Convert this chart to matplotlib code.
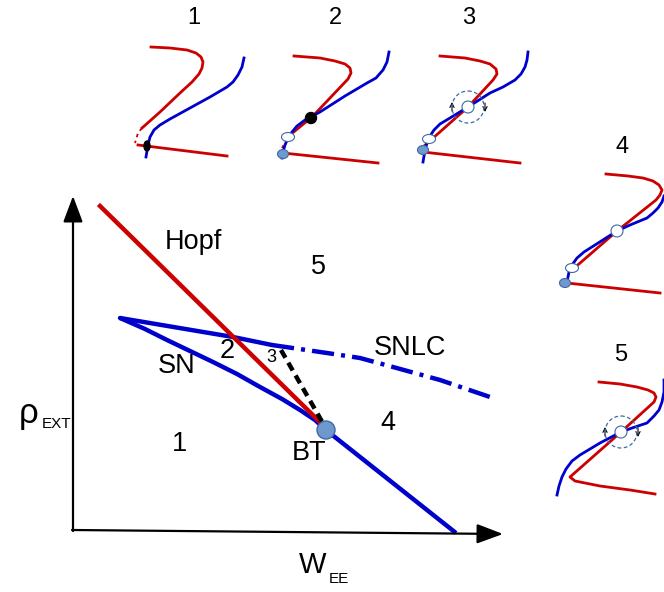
import numpy as np
import matplotlib.pyplot as plt
from matplotlib.patches import Ellipse, Circle

plt.rcParams['font.family'] = ['Liberation Sans', 'DejaVu Sans']

RED = '#cc0000'
BLUE = '#0000cc'
PT_FILL = '#6f98cc'
PT_EDGE = '#3d69a6'

# ---- main bifurcation diagram (picture coordinates, y down) ----
hopf_x = [100, 322]
hopf_y = [206, 424]
sn_upper_x = [120, 233, 272]
sn_upper_y = [318, 337, 345]
sn_lower_x = [120, 145, 167, 190, 213, 237, 260, 282, 300, 315, 326, 456]
sn_lower_y = [318, 329, 340, 351, 362, 374, 387, 399, 410, 420, 430, 533]
snlc_x = [272, 327, 360, 393, 440, 490]
snlc_y = [345, 353, 358, 367, 380, 397]
homo_x = [281, 324]
homo_y = [350, 425]
bt_point = (326, 430)

region_labels = ['Hopf', '5', 'SNLC', '2', 'SN', '1', 'BT', '4']
region_x = [193, 318, 410, 227, 177, 179, 309, 388]
region_y = [242, 267, 348, 351, 366, 444, 453, 423]

# ---- small phase-plane sketches ----
p1_red_top = ([151, 170, 187, 196, 201, 203, 202, 199, 192, 180, 160, 142],
              [47, 48, 50, 53, 57, 62, 68, 74, 82, 93, 112, 128])
p1_red_dash = ([142, 138, 135], [128, 133, 143])
p1_red_low = ([138, 227], [145, 156])
p1_blue = ([244, 242, 238, 233, 227, 210, 190, 170, 160, 154, 150, 148, 146],
           [58, 67, 75, 82, 87, 97, 108, 119, 125, 130, 137, 145, 157])

p2_red_top = ([294, 320, 335, 345, 350, 351, 348, 312, 290],
              [56, 58, 61, 64, 68, 73, 79, 117, 135])
p2_red_dash = ([287, 282], [139, 148])
p2_red_low = ([283, 378], [153, 163])
p2_blue = ([389, 387, 383, 376, 367, 345, 320, 305, 297, 292, 288, 285, 283, 282],
           [52, 62, 70, 78, 83, 96, 112, 120, 126, 132, 138, 145, 152, 158])

p3_red_top = ([440, 465, 480, 490, 496, 497, 493, 468, 423],
              [56, 58, 61, 64, 69, 74, 80, 107, 147])
p3_red_low = ([423, 520], [152, 163])
p3_blue = ([528, 527, 525, 521, 515, 503, 490, 468, 450, 440, 434, 430, 427, 425, 423],
           [52, 60, 67, 74, 80, 87, 93, 107, 118, 124, 130, 136, 143, 150, 162])

p4_red_top = ([606, 628, 643, 653, 659, 662, 660, 656, 617, 572],
              [174, 176, 178, 181, 185, 190, 195, 200, 231, 270])
p4_red_low = ([567, 660], [283, 293])
p4_blue = ([664, 662, 658, 653, 647, 630, 617, 595, 584, 577, 572, 569, 567],
           [196, 202, 208, 213, 218, 225, 231, 245, 252, 258, 265, 272, 282])

p5_red = ([599, 620, 637, 648, 654, 656, 654, 621, 570, 575, 600, 630, 655],
          [382, 384, 387, 390, 393, 397, 402, 432, 477, 481, 486, 490, 494])
p5_blue = ([664, 664, 662, 659, 654, 647, 632, 621, 600, 580, 572, 566, 562, 559, 557],
           [380, 392, 402, 410, 416, 423, 428, 432, 443, 455, 461, 469, 477, 486, 495])

panel_titles = ['1', '2', '3', '4', '5']
title_x = [194, 335, 469, 622, 621]
title_y = [18, 18, 18, 147, 355]

# markers: (x, y) of the fixed points in the sketches
black_pts = [(311, 118)]
white_pts = [(288, 137), (429, 139), (572, 268)]
white_round = [(468, 107), (617, 231), (621, 432)]
filled_pts = [(283, 154), (423, 150), (565, 283)]
limit_cycles = [(468, 107), (621, 432)]

fig = plt.figure(figsize=(6.64, 5.92), dpi=100)
ax = fig.add_axes([0, 0, 1, 1])
ax.set_xlim(0, 664)
ax.set_ylim(592, 0)
ax.axis('off')

# axes arrows
arrow = dict(arrowstyle='-|>,head_length=0.8,head_width=0.3', lw=1.6,
             color='black', mutation_scale=20, shrinkA=0, shrinkB=0)
ax.annotate('', xy=(73, 196), xytext=(73, 531), arrowprops=arrow)
ax.annotate('', xy=(503, 534), xytext=(72, 530), arrowprops=arrow)

ax.text(29, 413, 'ρ', fontsize=25, ha='center', va='center')
ax.text(42, 424, 'EXT', fontsize=11, ha='left', va='center')
ax.text(313, 565, 'W', fontsize=21, ha='center', va='center')
ax.text(329, 579, 'EE', fontsize=11, ha='left', va='center')

# bifurcation curves
ax.plot(sn_upper_x, sn_upper_y, color=BLUE, lw=3.2, solid_capstyle='round')
ax.plot(sn_lower_x, sn_lower_y, color=BLUE, lw=3.2, solid_capstyle='butt',
        solid_joinstyle='round')
ax.plot(snlc_x, snlc_y, color=BLUE, lw=3.2, linestyle=(0, (5, 1.6, 0.9, 1.6)))
ax.plot(hopf_x, hopf_y, color=RED, lw=3.2)
ax.plot(homo_x, homo_y, color='black', lw=3.2, linestyle=(0, (2, 1.3)))
ax.add_patch(Circle(bt_point, 9, facecolor=PT_FILL, edgecolor=PT_EDGE, lw=1, zorder=5))

for lab, x, y in zip(region_labels, region_x, region_y):
    ax.text(x, y, lab, fontsize=19.5, ha='center', va='center')
ax.text(271, 358, '3', fontsize=13, ha='center', va='center')

# sketches
for xs, ys in [p1_red_top, p1_red_low, p2_red_top, p2_red_low, p3_red_top,
               p3_red_low, p4_red_top, p4_red_low, p5_red]:
    ax.plot(xs, ys, color=RED, lw=2, solid_joinstyle='round')
for xs, ys in [p1_red_dash, p2_red_dash]:
    ax.plot(xs, ys, color=RED, lw=1.3, linestyle=(0, (2, 2)))
for xs, ys in [p1_blue, p2_blue, p3_blue, p4_blue, p5_blue]:
    ax.plot(xs, ys, color=BLUE, lw=2, solid_joinstyle='round')

for t, x, y in zip(panel_titles, title_x, title_y):
    ax.text(x, y, t, fontsize=17, ha='center', va='center')

ax.add_patch(Ellipse((147, 146), 6, 10, facecolor='black', edgecolor='black', zorder=5))
for x, y in black_pts:
    ax.add_patch(Circle((x, y), 5.5, facecolor='black', edgecolor='black', zorder=5))
for x, y in white_pts:
    ax.add_patch(Ellipse((x, y), 13, 9, facecolor='white', edgecolor=PT_EDGE, lw=0.8, zorder=5))
for x, y in white_round:
    ax.add_patch(Circle((x, y), 6, facecolor='white', edgecolor=PT_EDGE, lw=0.8, zorder=5))
for x, y in filled_pts:
    ax.add_patch(Ellipse((x, y), 11, 9, facecolor=PT_FILL, edgecolor=PT_EDGE, lw=0.8, zorder=5))
for x, y in limit_cycles:
    ax.add_patch(Circle((x, y), 16, facecolor='none', edgecolor=PT_EDGE, lw=0.9,
                        linestyle=(0, (3, 2)), zorder=4))
    small = dict(arrowstyle='->,head_length=0.3,head_width=0.15', lw=0.8, color='black',
                 shrinkA=0, shrinkB=0)
    ax.annotate('', xy=(x - 16, y - 5), xytext=(x - 16, y + 4), arrowprops=small)
    ax.annotate('', xy=(x + 17, y + 5), xytext=(x + 17, y - 4), arrowprops=small)

fig.savefig('out.png', dpi=100)
